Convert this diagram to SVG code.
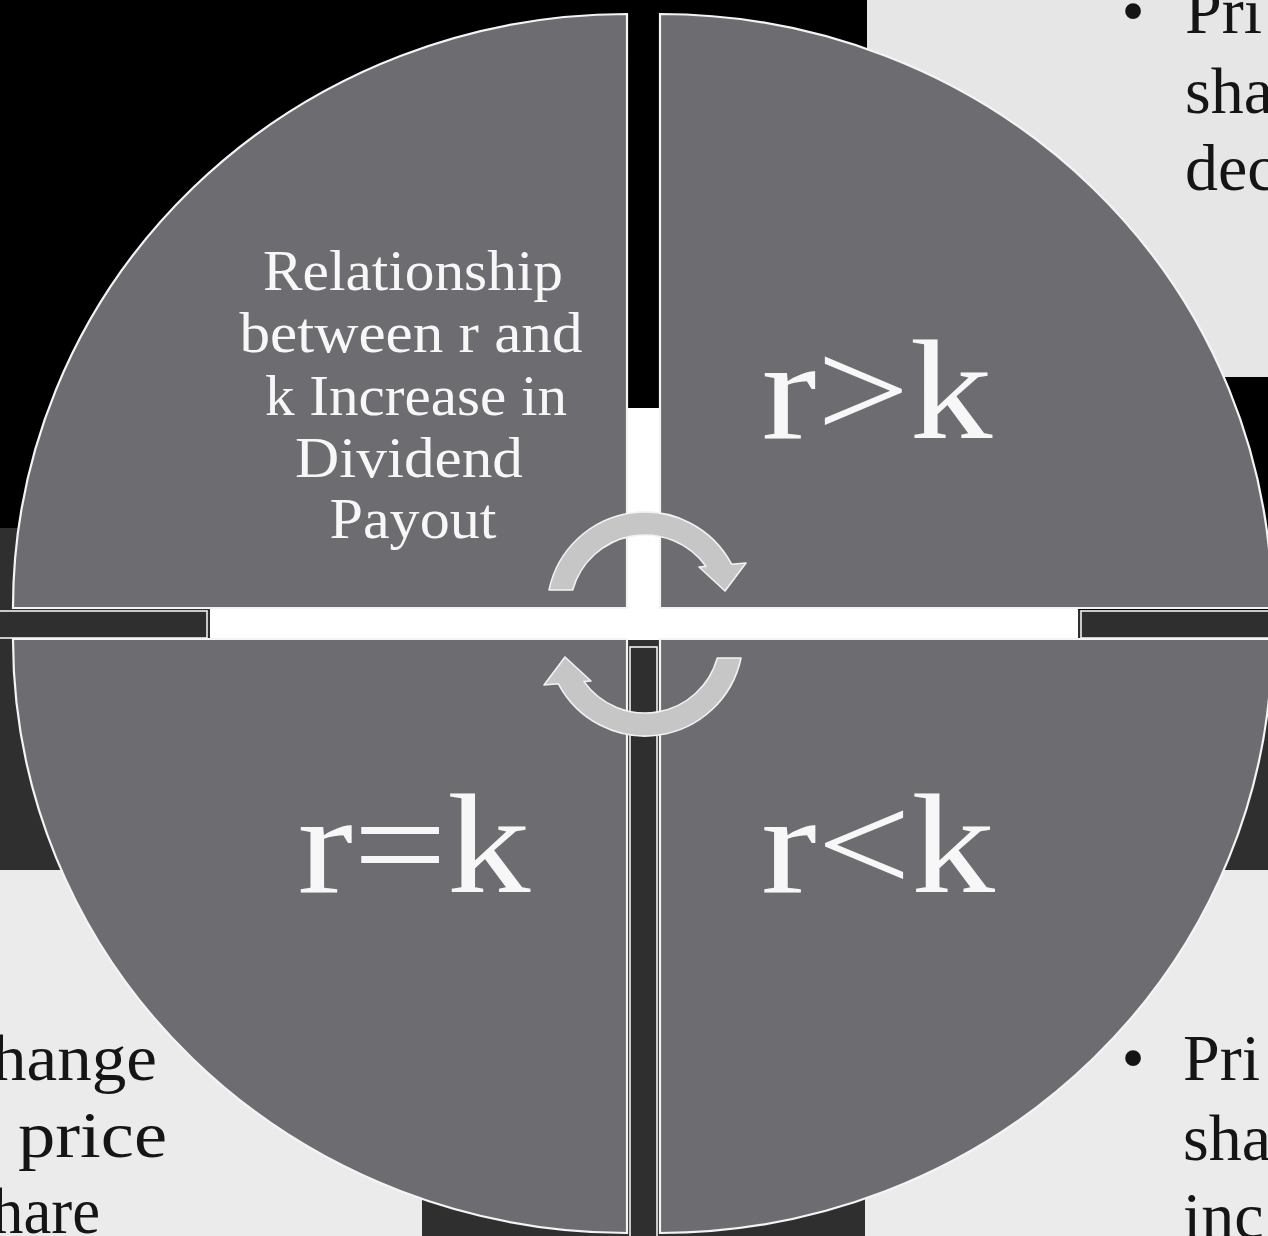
<svg xmlns="http://www.w3.org/2000/svg" width="1268" height="1236" viewBox="0 0 1268 1236">
  <style>
    .quad { fill: #6d6d71; stroke: #f4f4f4; stroke-width: 2.2; }
    .dark { fill: #2f2f2f; }
    .bar { fill: #2f2f2f; stroke: #f0f0f0; stroke-width: 1.6; }
    .white { fill: #ffffff; }
    .lgray { fill: #ebebeb; }
    .arrow { fill: #c6c6c6; stroke: #f2f2f2; stroke-width: 1.6; stroke-linejoin: round; }
    .qtext { font-family: "Liberation Serif", "DejaVu Serif", serif; fill: #f7f7f7; text-anchor: middle; }
    .big { font-size: 142px; }
    .main { font-size: 56px; }
    .side { font-family: "Liberation Serif", "DejaVu Serif", serif; font-size: 66px; fill: #151515; }
  </style>
  <defs>
    <path id="arrowShape" d="M -96,-20 A 98 98 0 0 1 86.6,-45.8 L 101,-47 L 80,-19 L 54,-43 L 61,-43.6 A 75 75 0 0 0 -72.3,-20 Z"/>
  </defs>

  <g id="background">
    <rect x="0" y="0" width="1268" height="1236" fill="#000000"/>
    <rect class="dark" x="0" y="528" width="422" height="342"/>
    <rect class="dark" x="865" y="610" width="403" height="260"/>
    <rect class="dark" x="422" y="528" width="443" height="708"/>
    <rect fill="#e6e6e6" x="867" y="0" width="401" height="377"/>
    <rect class="lgray" x="0" y="870" width="422" height="366"/>
    <rect class="lgray" x="865" y="870" width="403" height="366"/>
    <rect class="bar" x="-5" y="611" width="212" height="27"/>
    <rect class="bar" x="1081" y="611" width="195" height="27"/>
    <rect class="white" x="627" y="408" width="33" height="202"/>
    <rect class="white" x="210" y="608" width="868" height="32"/>
    <rect class="bar" x="630" y="647" width="27" height="600"/>
  </g>

  <g id="side-texts">
    <text class="side" x="1133" y="33" text-anchor="middle">•</text>
    <text class="side" x="1185" y="33">Pri</text>
    <text class="side" x="1185" y="113">sha</text>
    <text class="side" x="1185" y="190">dec</text>
    <text class="side" x="1133" y="1080" text-anchor="middle">•</text>
    <text class="side" x="1183" y="1080">Pri</text>
    <text class="side" x="1183" y="1160">sha</text>
    <text class="side" x="1183" y="1238">inc</text>
    <text class="side" x="-8" y="1080" textLength="165" lengthAdjust="spacingAndGlyphs">hange</text>
    <text class="side" x="18" y="1157" textLength="149" lengthAdjust="spacingAndGlyphs">price</text>
    <text class="side" x="-8" y="1233" textLength="108" lengthAdjust="spacingAndGlyphs">hare</text>
  </g>

  <g id="node-tl">
    <path class="quad" d="M 627,608 L 13,608 A 614 594 0 0 1 627,14 Z"/>
    <text class="qtext main" x="413" y="290" textLength="300" lengthAdjust="spacingAndGlyphs">Relationship</text>
    <text class="qtext main" x="411" y="352" textLength="343" lengthAdjust="spacingAndGlyphs">between r and</text>
    <text class="qtext main" x="416" y="415" textLength="302" lengthAdjust="spacingAndGlyphs">k Increase in</text>
    <text class="qtext main" x="409" y="477" textLength="228" lengthAdjust="spacingAndGlyphs">Dividend</text>
    <text class="qtext main" x="413" y="538" textLength="167" lengthAdjust="spacingAndGlyphs">Payout</text>
  </g>

  <g id="node-tr">
    <path class="quad" d="M 660,608 L 660,14 A 612 594 0 0 1 1272,608 Z"/>
    <text class="qtext big" x="877" y="438" textLength="231" lengthAdjust="spacingAndGlyphs">r&gt;k</text>
  </g>

  <g id="node-bl">
    <path class="quad" d="M 627,639 L 627,1233 A 614 594 0 0 1 13,639 Z"/>
    <text class="qtext big" x="414" y="892" textLength="233" lengthAdjust="spacingAndGlyphs">r=k</text>
  </g>

  <g id="node-br">
    <path class="quad" d="M 660,639 L 1272,639 A 612 594 0 0 1 660,1233 Z"/>
    <text class="qtext big" x="878" y="892" textLength="234" lengthAdjust="spacingAndGlyphs">r&lt;k</text>
  </g>

  <g id="connectors">
    <use href="#arrowShape" class="arrow" transform="translate(645,610)"/>
    <use href="#arrowShape" class="arrow" transform="translate(645,638) rotate(180)"/>
  </g>
</svg>
